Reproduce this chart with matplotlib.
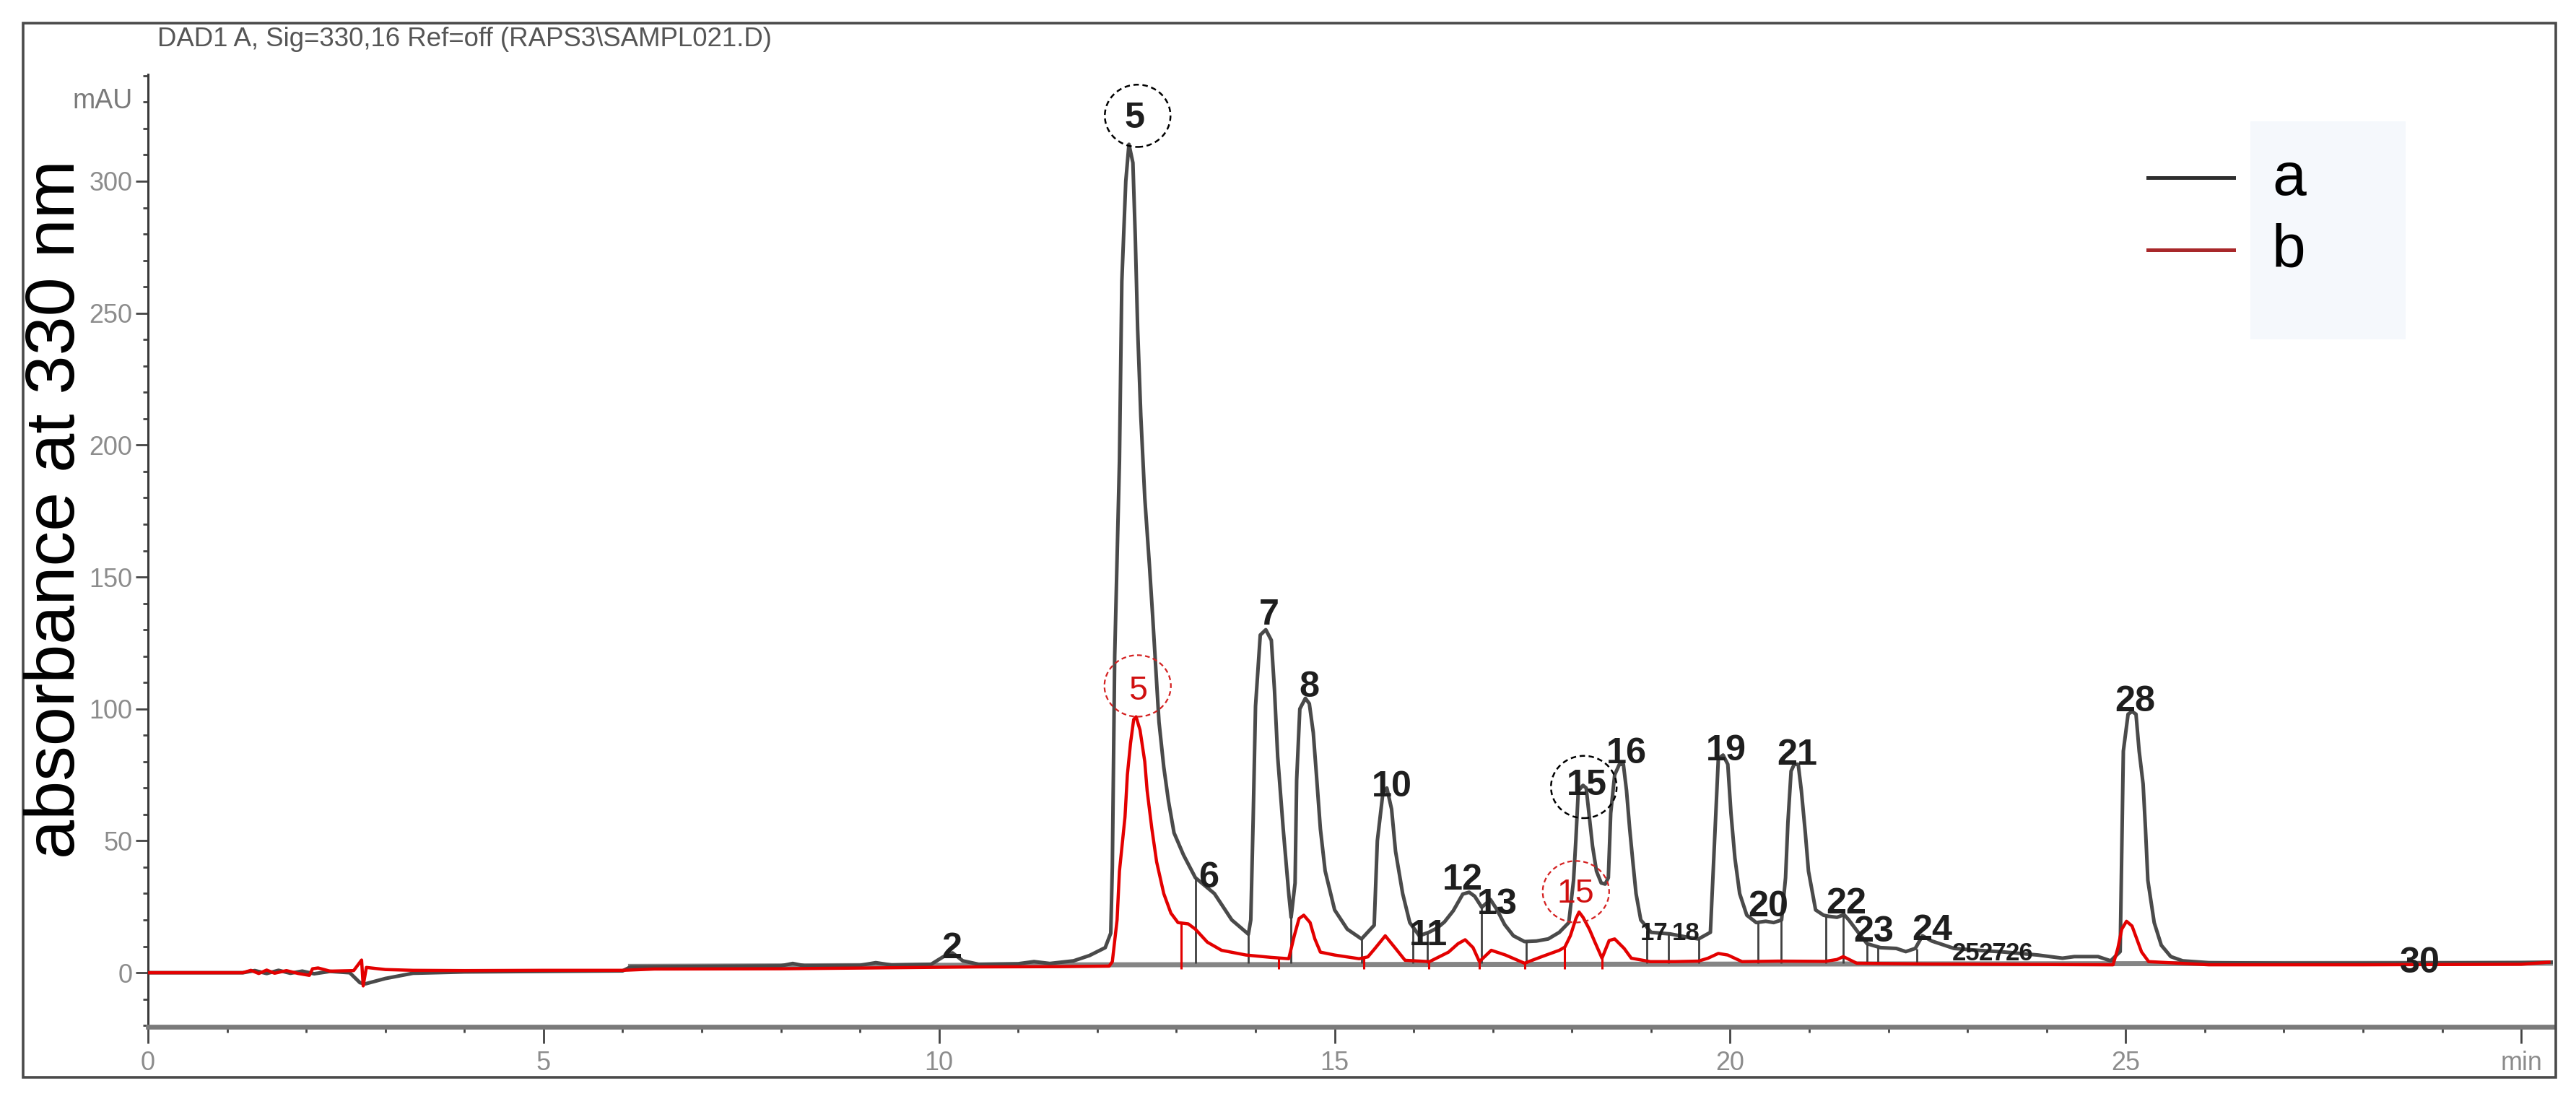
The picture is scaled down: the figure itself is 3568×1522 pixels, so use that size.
import matplotlib
matplotlib.use("Agg")
import matplotlib.pyplot as plt
from matplotlib import font_manager
from matplotlib.lines import Line2D
from matplotlib.patches import Ellipse, Rectangle
from matplotlib.ticker import MultipleLocator, FixedLocator

# ---- data (time in min, signal in mAU) ----
a_time = [0.0, 1.2, 1.35, 1.5, 1.65, 1.8, 1.95, 2.1, 2.3, 2.55, 2.68, 2.75, 3.0,
          3.35, 4.0, 5.0, 6.0, 6.1, 7.0, 8.0, 8.15, 8.3, 9.0, 9.2, 9.4, 9.9,
          10.05, 10.17, 10.3, 10.5, 11.0, 11.2, 11.4, 11.7, 11.9, 12.1, 12.17,
          12.19, 12.22, 12.28, 12.31, 12.36, 12.40, 12.45, 12.48, 12.51, 12.55,
          12.60, 12.66, 12.70, 12.74, 12.78, 12.84, 12.90, 12.97, 13.09, 13.24,
          13.48, 13.70, 13.91, 13.94, 13.97, 14.00, 14.06, 14.13, 14.20, 14.24,
          14.28, 14.35, 14.42, 14.45, 14.50, 14.52, 14.56, 14.63, 14.68, 14.73,
          14.77, 14.82, 14.88, 15.00, 15.16, 15.34, 15.50, 15.54, 15.61, 15.66,
          15.72, 15.77, 15.86, 15.95, 16.07, 16.19, 16.30, 16.39, 16.50, 16.62,
          16.70, 16.77, 16.86, 16.97, 17.05, 17.15, 17.26, 17.40, 17.55, 17.70,
          17.84, 17.96, 18.02, 18.05, 18.08, 18.14, 18.18, 18.22, 18.26, 18.31,
          18.37, 18.42, 18.46, 18.49, 18.54, 18.60, 18.65, 18.69, 18.73, 18.77,
          18.81, 18.87, 19.00, 19.24, 19.45, 19.60, 19.75, 19.80, 19.85, 19.91,
          19.97, 20.01, 20.06, 20.12, 20.21, 20.33, 20.45, 20.55, 20.65, 20.70,
          20.73, 20.77, 20.81, 20.86, 20.90, 20.95, 20.99, 21.08, 21.18, 21.24,
          21.35, 21.44, 21.50, 21.60, 21.73, 21.90, 22.10, 22.22, 22.34, 22.43,
          22.55, 22.83, 23.13, 23.44, 23.89, 24.20, 24.35, 24.65, 24.81, 24.93,
          24.95, 24.97, 25.03, 25.08, 25.13, 25.17, 25.22, 25.25, 25.28, 25.36,
          25.45, 25.57, 25.72, 26.05, 27.0, 28.0, 29.0, 30.0, 30.4]
a_mau = [0.0, 0.0, 0.8, -0.3, 0.9, -0.2, 0.6, -0.4, 0.5, 0.0, -3.8, -4.2, -2.2,
         -0.2, 0.3, 0.5, 0.7, 2.2, 2.4, 2.6, 3.5, 2.6, 2.8, 3.8, 2.9, 3.2,
         6.0, 7.5, 4.5, 3.2, 3.4, 4.2, 3.5, 4.5, 6.5, 9.5, 15,
         40, 120, 194, 262, 300, 314, 307, 279, 244, 211,
         180, 154, 135, 115, 95, 78, 65, 53, 44.6, 36,
         30, 20, 14.6, 20, 58, 101, 128, 130, 126, 107,
         82, 54.5, 30, 21, 34, 73, 100, 104, 102, 91,
         75, 54.5, 38.6, 23.8, 16.5, 12.8, 18, 50, 68, 70,
         62, 46, 30, 19, 14, 15.3, 17, 19.3, 23.5, 29.8,
         30.5, 29, 24.8, 27.7, 24, 18.2, 14, 11.8, 12, 12.8,
         15.3, 19, 35, 50.7, 69, 71, 70, 59, 48, 38.5,
         34, 33.6, 36, 60.5, 75, 79, 79, 69, 54.5, 42,
         30, 20, 15.3, 14.7, 13.5, 12.8, 15.3, 48, 81, 82.5,
         79, 60.5, 43.4, 30, 21.8, 19, 19.5, 19, 20, 36,
         57, 76.4, 79, 79, 69, 53, 38.5, 23.8, 21.8, 21.4,
         21, 22, 20, 16, 11, 9.5, 9.2, 8, 9.2, 14,
         12, 9.2, 8.5, 7.9, 6.7, 5.5, 6.1, 6.1, 4.5, 8,
         46, 84, 98, 99, 98, 84, 71.5, 54.5, 35, 19,
         10.4, 6.1, 4.5, 3.8, 3.6, 3.6, 3.7, 3.8, 4.0]

b_time = [0.0, 1.2, 1.3, 1.4, 1.5, 1.6, 1.75, 1.9, 2.04, 2.08, 2.15, 2.3, 2.6,
          2.7, 2.72, 2.76, 3.0, 3.35, 4.0, 5.0, 6.0, 6.4, 8.0, 9.1, 10.5, 11.5,
          12.15, 12.19, 12.25, 12.28, 12.35, 12.38, 12.42, 12.46, 12.49, 12.54,
          12.60, 12.63, 12.69, 12.75, 12.84, 12.93, 13.02, 13.15, 13.24, 13.39,
          13.57, 13.88, 14.20, 14.42, 14.49, 14.55, 14.61, 14.69, 14.75, 14.82,
          15.00, 15.31, 15.42, 15.51, 15.64, 15.77, 15.89, 16.20, 16.44, 16.56,
          16.65, 16.75, 16.83, 16.98, 17.16, 17.40, 17.62, 17.84, 17.91, 17.98,
          18.05, 18.09, 18.14, 18.22, 18.29, 18.38, 18.47, 18.54, 18.66, 18.75,
          18.99, 19.30, 19.60, 19.72, 19.85, 19.97, 20.15, 20.60, 21.20, 21.35,
          21.43, 21.60, 22.50, 24.84, 24.90, 24.95, 25.01, 25.08, 25.14, 25.20,
          25.29, 26.05, 28.0, 30.0, 30.35]
b_mau = [0.0, 0.0, 0.9, -0.3, 1.0, -0.2, 0.8, -0.3, -1.0, 1.5, 1.8, 0.6, 0.8,
         4.8, -5.0, 2.0, 1.2, 0.9, 0.8, 0.9, 0.9, 1.4, 1.5, 1.8, 2.2, 2.3,
         2.5, 4.2, 20, 38.5, 59, 75, 87, 96, 97, 92,
         80, 69, 54.5, 42, 30, 22.6, 19, 18.5, 16.5, 11.6,
         8.5, 6.7, 5.8, 5.3, 14, 20.5, 21.8, 19, 12.8, 7.8,
         6.7, 5.3, 6.0, 9.2, 14, 9.2, 4.7, 4.2, 7.8, 11,
         12.5, 9.5, 4.2, 8.5, 6.7, 3.6, 6.1, 8.5, 9.7, 14,
         20.5, 23, 21, 16.5, 11.6, 5.5, 12.2, 12.8, 9.2, 5.5,
         4.2, 4.2, 4.4, 5.5, 7.3, 6.7, 4.2, 4.4, 4.3, 5.0,
         6.1, 3.6, 3.3, 3.0, 9.2, 16.5, 19.5, 17.7, 12.8, 7.9,
         4.2, 3.0, 3.0, 3.2, 4.0]

baseline_time = [6.1, 11.9, 30.4]
baseline_mau = [2.4, 3.0, 3.6]

# integration drop lines
a_drop_time = [13.24, 13.91, 14.45, 15.34, 15.99, 16.17, 16.86, 17.42, 18.95,
               19.22, 19.60, 20.35, 20.64, 21.21, 21.43, 21.73, 21.87, 22.36]
a_drop_top = [36, 14.6, 21, 12.8, 17.5, 15.3, 24.8, 11.8, 16,
              14.7, 12.8, 19, 20, 21.5, 22, 11, 9.5, 9]
b_drop_time = [13.06, 14.29, 15.37, 16.19, 16.83, 17.40, 17.91, 18.38]
b_drop_top = [19, 5.6, 5.4, 4.2, 4.2, 3.6, 9.7, 5.5]

# peak numbers of trace a
peak_names = ["2", "5", "6", "7", "8", "10", "11", "12", "13", "15", "16", "17",
              "18", "19", "20", "21", "22", "23", "24", "25", "27", "26", "28", "30"]
peak_time = [10.16, 12.47, 13.41, 14.17, 14.68, 15.72, 16.19, 16.62, 17.06, 18.19,
             18.69, 19.04, 19.44, 19.95, 20.48, 20.85, 21.47, 21.81, 22.55, 22.98,
             23.32, 23.66, 25.12, 28.72]
peak_mau = [9, 323.8, 36, 135.5, 108, 70.4, 14, 35, 25.7, 70.9,
            83, 15, 15, 84, 25, 82.5, 26, 15.3, 16, 7.4,
            7.4, 7.4, 102.7, 3.6]
# crowded labels are printed smaller
crowded = {"17", "18", "25", "26", "27"}

# circled peaks
a_circle_time = [12.51, 18.15]
a_circle_mau = [324.8, 70.4]
b_circle_names = ["5", "15"]
b_circle_time = [12.51, 18.05]
b_circle_mau = [108.7, 30.7]
b_label_mau = [106.7, 29.9]

series_names = ["a", "b"]

# ---- fonts ----
names = {f.name for f in font_manager.fontManager.ttflist}
if "Liberation Sans Narrow" in names:
    narrow, k = "Liberation Sans Narrow", 1.0 / 0.82
else:
    narrow, k = "Liberation Sans", 1.08

W, H, DPI = 3568, 1522, 200
fig = plt.figure(figsize=(W / DPI, H / DPI), dpi=DPI)
ax = fig.add_axes([205 / W, 1 - 1422 / H, (3536 - 205) / W, (1422 - 103) / H])

# Traces
ax.plot(baseline_time, baseline_mau, color="#858585", lw=2.5, zorder=1)
ax.plot(a_time, a_mau, color="#4a4a4a", lw=1.8, zorder=2)
ax.vlines(a_drop_time, 3.5, a_drop_top, color="#404040", lw=1.0, zorder=2)
ax.plot(b_time, b_mau, color="#e30000", lw=1.6, zorder=3)
ax.vlines(b_drop_time, 1.5, b_drop_top, color="#e30000", lw=1.1, zorder=3)

# Peak labels
for name, t, v in zip(peak_names, peak_time, peak_mau):
    size = 12.5 if name in crowded else 16.8 * k
    ax.text(t, v, name, ha="center", va="center", family=narrow,
            fontweight="bold", fontsize=size, color="#1e1e1e", zorder=4)

for t, v in zip(a_circle_time, a_circle_mau):
    ax.add_patch(Ellipse((t, v), 0.83, 23.6, fill=False, ec="black",
                         lw=0.9, ls=(0, (3, 2)), zorder=5))
for name, t, v, lv in zip(b_circle_names, b_circle_time, b_circle_mau, b_label_mau):
    ax.add_patch(Ellipse((t, v), 0.84, 23.3, fill=False, ec="#d42020",
                         lw=0.8, ls=(0, (3, 2)), zorder=5))
    ax.text(t, lv, name, ha="center", va="center", family=narrow,
            fontsize=15.5 * k, color="#d01010", zorder=5)

# Axes
ax.set_xlim(0, 30.4)
ax.set_ylim(-20.5, 340.5)
ax.spines["top"].set_visible(False)
ax.spines["right"].set_visible(False)
ax.spines["left"].set_color("#3a3a3a")
ax.spines["left"].set_linewidth(1.1)
ax.spines["bottom"].set_color("#7a7a7a")
ax.spines["bottom"].set_linewidth(2.4)

ax.xaxis.set_major_locator(FixedLocator([0, 5, 10, 15, 20, 25, 30]))
ax.set_xticklabels(["0", "5", "10", "15", "20", "25", "min"])
ax.xaxis.set_minor_locator(MultipleLocator(1))
ax.yaxis.set_major_locator(FixedLocator([0, 50, 100, 150, 200, 250, 300]))
ax.yaxis.set_minor_locator(MultipleLocator(10))

ax.tick_params(axis="x", which="major", length=8.3, width=1.0, color="#444444",
               pad=3.5, labelsize=12 * k, labelcolor="#8c8c8c")
ax.tick_params(axis="x", which="minor", length=2.9, width=1.0, color="#444444")
ax.tick_params(axis="y", which="major", length=6, width=1.0, color="#444444",
               pad=1.8, labelsize=12 * k, labelcolor="#8c8c8c")
ax.tick_params(axis="y", which="minor", length=2.5, width=1.0, color="#444444")
for lab in ax.get_xticklabels() + ax.get_yticklabels():
    lab.set_family(narrow)

# Header texts
fig.text(218 / W, 1 - 55 / H, r"DAD1 A, Sig=330,16 Ref=off (RAPS3\SAMPL021.D)",
         ha="left", va="center", family=narrow, fontsize=12.2 * k, color="#555555")
fig.text(184 / W, 1 - 140 / H, "mAU", ha="right", va="center", family=narrow,
         fontsize=12.5 * k, color="#7a7a7a")
fig.text(78 / W, 1 - 705 / H, "absorbance at 330 nm", rotation=90, ha="center",
         va="center", family="Liberation Sans", fontsize=35, color="black")

# Legend (drawn by hand to copy the layout)
fig.add_artist(Rectangle((3117 / W, 1 - 470 / H), (3332 - 3117) / W, (470 - 168) / H,
                         transform=fig.transFigure, fc="#f5f8fc", ec="none"))
legend_colors = ["#2e2e2e", "#a8282a"]
legend_y = [246, 346]
for name, col, yy in zip(series_names, legend_colors, legend_y):
    fig.add_artist(Line2D([2975 / W, 3094 / W], [1 - yy / H, 1 - yy / H],
                          transform=fig.transFigure, color=col, lw=1.8))
    fig.text(3147 / W, 1 - (yy + 2) / H, name, ha="left", va="center",
             family=narrow, fontsize=28 * k, color="black")

# Outer frame
fig.add_artist(Rectangle((32 / W, 1 - 1492 / H), (3540 - 32) / W, (1492 - 32) / H,
                         transform=fig.transFigure, fill=False, ec="#4a4a4a", lw=1.3))

fig.savefig("out.png", dpi=DPI)
